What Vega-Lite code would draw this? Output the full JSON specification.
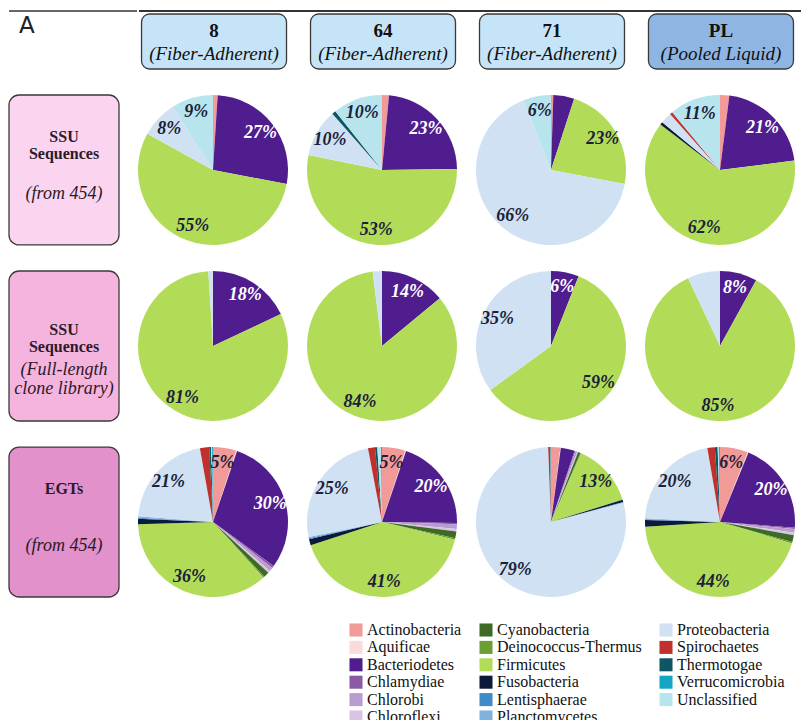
{
  "$schema": "https://vega.github.io/schema/vega-lite/v6.json",
  "padding": {"left": 8, "top": 10, "right": 0, "bottom": 0},
  "background": "white",
  "config": {"view": {"stroke": null}, "font": "'Liberation Serif', 'DejaVu Serif', serif"},
  "datasets": {
    "cols": [
      {"sample": "8", "num": "8", "sub": "(Fiber-Adherent)"},
      {"sample": "64", "num": "64", "sub": "(Fiber-Adherent)"},
      {"sample": "71", "num": "71", "sub": "(Fiber-Adherent)"},
      {"sample": "PL", "num": "PL", "sub": "(Pooled Liquid)"}
    ],
    "rows": [
      {"dataset": "SSU454", "bold": "SSU\nSequences", "ital": "(from 454)"},
      {"dataset": "SSUclone", "bold": "\nSSU\nSequences", "ital": "(Full-length\nclone library)"},
      {"dataset": "EGT", "bold": "EGTs", "ital": "(from 454)"}
    ],
    "pies": [
      {"sample": "8", "dataset": "SSU454", "phylum": "Actinobacteria", "pct": 1, "label": ""},
      {"sample": "8", "dataset": "SSU454", "phylum": "Bacteriodetes", "pct": 27, "label": "27%"},
      {"sample": "8", "dataset": "SSU454", "phylum": "Firmicutes", "pct": 55, "label": "55%"},
      {"sample": "8", "dataset": "SSU454", "phylum": "Proteobacteria", "pct": 8, "label": "8%"},
      {"sample": "8", "dataset": "SSU454", "phylum": "Unclassified", "pct": 9, "label": "9%"},

      {"sample": "64", "dataset": "SSU454", "phylum": "Actinobacteria", "pct": 1.5, "label": ""},
      {"sample": "64", "dataset": "SSU454", "phylum": "Bacteriodetes", "pct": 23.3, "label": "23%"},
      {"sample": "64", "dataset": "SSU454", "phylum": "Firmicutes", "pct": 53.4, "label": "53%"},
      {"sample": "64", "dataset": "SSU454", "phylum": "Proteobacteria", "pct": 10.3, "label": "10%"},
      {"sample": "64", "dataset": "SSU454", "phylum": "Thermotogae", "pct": 0.8, "label": ""},
      {"sample": "64", "dataset": "SSU454", "phylum": "Unclassified", "pct": 10.7, "label": "10%"},

      {"sample": "71", "dataset": "SSU454", "phylum": "Actinobacteria", "pct": 0.5, "label": ""},
      {"sample": "71", "dataset": "SSU454", "phylum": "Bacteriodetes", "pct": 4.5, "label": ""},
      {"sample": "71", "dataset": "SSU454", "phylum": "Firmicutes", "pct": 23, "label": "23%"},
      {"sample": "71", "dataset": "SSU454", "phylum": "Proteobacteria", "pct": 66, "label": "66%"},
      {"sample": "71", "dataset": "SSU454", "phylum": "Unclassified", "pct": 6, "label": "6%"},

      {"sample": "PL", "dataset": "SSU454", "phylum": "Actinobacteria", "pct": 2, "label": ""},
      {"sample": "PL", "dataset": "SSU454", "phylum": "Bacteriodetes", "pct": 21, "label": "21%"},
      {"sample": "PL", "dataset": "SSU454", "phylum": "Firmicutes", "pct": 62.4, "label": "62%"},
      {"sample": "PL", "dataset": "SSU454", "phylum": "Fusobacteria", "pct": 0.6, "label": ""},
      {"sample": "PL", "dataset": "SSU454", "phylum": "Proteobacteria", "pct": 2.4, "label": ""},
      {"sample": "PL", "dataset": "SSU454", "phylum": "Spirochaetes", "pct": 0.6, "label": ""},
      {"sample": "PL", "dataset": "SSU454", "phylum": "Unclassified", "pct": 11, "label": "11%"},

      {"sample": "8", "dataset": "SSUclone", "phylum": "Bacteriodetes", "pct": 18, "label": "18%"},
      {"sample": "8", "dataset": "SSUclone", "phylum": "Firmicutes", "pct": 81, "label": "81%"},
      {"sample": "8", "dataset": "SSUclone", "phylum": "Proteobacteria", "pct": 1, "label": ""},

      {"sample": "64", "dataset": "SSUclone", "phylum": "Bacteriodetes", "pct": 14, "label": "14%"},
      {"sample": "64", "dataset": "SSUclone", "phylum": "Firmicutes", "pct": 84, "label": "84%"},
      {"sample": "64", "dataset": "SSUclone", "phylum": "Proteobacteria", "pct": 2, "label": ""},

      {"sample": "71", "dataset": "SSUclone", "phylum": "Bacteriodetes", "pct": 6, "label": "6%"},
      {"sample": "71", "dataset": "SSUclone", "phylum": "Firmicutes", "pct": 59, "label": "59%"},
      {"sample": "71", "dataset": "SSUclone", "phylum": "Proteobacteria", "pct": 35, "label": "35%"},

      {"sample": "PL", "dataset": "SSUclone", "phylum": "Bacteriodetes", "pct": 8, "label": "8%"},
      {"sample": "PL", "dataset": "SSUclone", "phylum": "Firmicutes", "pct": 85, "label": "85%"},
      {"sample": "PL", "dataset": "SSUclone", "phylum": "Proteobacteria", "pct": 7, "label": ""},

      {"sample": "8", "dataset": "EGT", "phylum": "Actinobacteria", "pct": 5, "label": "5%"},
      {"sample": "8", "dataset": "EGT", "phylum": "Aquificae", "pct": 0.2, "label": ""},
      {"sample": "8", "dataset": "EGT", "phylum": "Bacteriodetes", "pct": 29.8, "label": "30%"},
      {"sample": "8", "dataset": "EGT", "phylum": "Chlamydiae", "pct": 0.5, "label": ""},
      {"sample": "8", "dataset": "EGT", "phylum": "Chlorobi", "pct": 0.8, "label": ""},
      {"sample": "8", "dataset": "EGT", "phylum": "Chloroflexi", "pct": 0.5, "label": ""},
      {"sample": "8", "dataset": "EGT", "phylum": "Cyanobacteria", "pct": 1.2, "label": ""},
      {"sample": "8", "dataset": "EGT", "phylum": "Deinococcus-Thermus", "pct": 0.3, "label": ""},
      {"sample": "8", "dataset": "EGT", "phylum": "Firmicutes", "pct": 36.2, "label": "36%"},
      {"sample": "8", "dataset": "EGT", "phylum": "Fusobacteria", "pct": 1.2, "label": ""},
      {"sample": "8", "dataset": "EGT", "phylum": "Lentisphaerae", "pct": 0.2, "label": ""},
      {"sample": "8", "dataset": "EGT", "phylum": "Planctomycetes", "pct": 0.3, "label": ""},
      {"sample": "8", "dataset": "EGT", "phylum": "Proteobacteria", "pct": 21, "label": "21%"},
      {"sample": "8", "dataset": "EGT", "phylum": "Spirochaetes", "pct": 2, "label": ""},
      {"sample": "8", "dataset": "EGT", "phylum": "Thermotogae", "pct": 0.4, "label": ""},
      {"sample": "8", "dataset": "EGT", "phylum": "Unclassified", "pct": 0.2, "label": ""},
      {"sample": "8", "dataset": "EGT", "phylum": "Verrucomicrobia", "pct": 0.2, "label": ""},

      {"sample": "64", "dataset": "EGT", "phylum": "Actinobacteria", "pct": 5, "label": "5%"},
      {"sample": "64", "dataset": "EGT", "phylum": "Aquificae", "pct": 0.2, "label": ""},
      {"sample": "64", "dataset": "EGT", "phylum": "Bacteriodetes", "pct": 20, "label": "20%"},
      {"sample": "64", "dataset": "EGT", "phylum": "Chlamydiae", "pct": 0.3, "label": ""},
      {"sample": "64", "dataset": "EGT", "phylum": "Chlorobi", "pct": 1, "label": ""},
      {"sample": "64", "dataset": "EGT", "phylum": "Chloroflexi", "pct": 0.5, "label": ""},
      {"sample": "64", "dataset": "EGT", "phylum": "Cyanobacteria", "pct": 1.5, "label": ""},
      {"sample": "64", "dataset": "EGT", "phylum": "Deinococcus-Thermus", "pct": 0.3, "label": ""},
      {"sample": "64", "dataset": "EGT", "phylum": "Firmicutes", "pct": 41.2, "label": "41%"},
      {"sample": "64", "dataset": "EGT", "phylum": "Fusobacteria", "pct": 1.3, "label": ""},
      {"sample": "64", "dataset": "EGT", "phylum": "Lentisphaerae", "pct": 0.2, "label": ""},
      {"sample": "64", "dataset": "EGT", "phylum": "Planctomycetes", "pct": 0.3, "label": ""},
      {"sample": "64", "dataset": "EGT", "phylum": "Proteobacteria", "pct": 25.2, "label": "25%"},
      {"sample": "64", "dataset": "EGT", "phylum": "Spirochaetes", "pct": 1.5, "label": ""},
      {"sample": "64", "dataset": "EGT", "phylum": "Thermotogae", "pct": 0.5, "label": ""},
      {"sample": "64", "dataset": "EGT", "phylum": "Unclassified", "pct": 0.8, "label": ""},
      {"sample": "64", "dataset": "EGT", "phylum": "Verrucomicrobia", "pct": 0.2, "label": ""},

      {"sample": "71", "dataset": "EGT", "phylum": "Actinobacteria", "pct": 2, "label": ""},
      {"sample": "71", "dataset": "EGT", "phylum": "Aquificae", "pct": 0.1, "label": ""},
      {"sample": "71", "dataset": "EGT", "phylum": "Bacteriodetes", "pct": 3, "label": ""},
      {"sample": "71", "dataset": "EGT", "phylum": "Chlamydiae", "pct": 0.2, "label": ""},
      {"sample": "71", "dataset": "EGT", "phylum": "Chlorobi", "pct": 0.4, "label": ""},
      {"sample": "71", "dataset": "EGT", "phylum": "Chloroflexi", "pct": 0.2, "label": ""},
      {"sample": "71", "dataset": "EGT", "phylum": "Cyanobacteria", "pct": 0.5, "label": ""},
      {"sample": "71", "dataset": "EGT", "phylum": "Deinococcus-Thermus", "pct": 0.2, "label": ""},
      {"sample": "71", "dataset": "EGT", "phylum": "Firmicutes", "pct": 13.6, "label": "13%"},
      {"sample": "71", "dataset": "EGT", "phylum": "Fusobacteria", "pct": 0.5, "label": ""},
      {"sample": "71", "dataset": "EGT", "phylum": "Lentisphaerae", "pct": 0.1, "label": ""},
      {"sample": "71", "dataset": "EGT", "phylum": "Planctomycetes", "pct": 0.1, "label": ""},
      {"sample": "71", "dataset": "EGT", "phylum": "Proteobacteria", "pct": 78.5, "label": "79%"},
      {"sample": "71", "dataset": "EGT", "phylum": "Spirochaetes", "pct": 0.4, "label": ""},
      {"sample": "71", "dataset": "EGT", "phylum": "Thermotogae", "pct": 0.1, "label": ""},
      {"sample": "71", "dataset": "EGT", "phylum": "Unclassified", "pct": 0.05, "label": ""},
      {"sample": "71", "dataset": "EGT", "phylum": "Verrucomicrobia", "pct": 0.05, "label": ""},

      {"sample": "PL", "dataset": "EGT", "phylum": "Actinobacteria", "pct": 6, "label": "6%"},
      {"sample": "PL", "dataset": "EGT", "phylum": "Aquificae", "pct": 0.2, "label": ""},
      {"sample": "PL", "dataset": "EGT", "phylum": "Bacteriodetes", "pct": 20, "label": "20%"},
      {"sample": "PL", "dataset": "EGT", "phylum": "Chlamydiae", "pct": 0.3, "label": ""},
      {"sample": "PL", "dataset": "EGT", "phylum": "Chlorobi", "pct": 0.8, "label": ""},
      {"sample": "PL", "dataset": "EGT", "phylum": "Chloroflexi", "pct": 0.5, "label": ""},
      {"sample": "PL", "dataset": "EGT", "phylum": "Cyanobacteria", "pct": 1.5, "label": ""},
      {"sample": "PL", "dataset": "EGT", "phylum": "Deinococcus-Thermus", "pct": 0.3, "label": ""},
      {"sample": "PL", "dataset": "EGT", "phylum": "Firmicutes", "pct": 44.4, "label": "44%"},
      {"sample": "PL", "dataset": "EGT", "phylum": "Fusobacteria", "pct": 1.4, "label": ""},
      {"sample": "PL", "dataset": "EGT", "phylum": "Lentisphaerae", "pct": 0.2, "label": ""},
      {"sample": "PL", "dataset": "EGT", "phylum": "Planctomycetes", "pct": 0.2, "label": ""},
      {"sample": "PL", "dataset": "EGT", "phylum": "Proteobacteria", "pct": 21.5, "label": "20%"},
      {"sample": "PL", "dataset": "EGT", "phylum": "Spirochaetes", "pct": 1.6, "label": ""},
      {"sample": "PL", "dataset": "EGT", "phylum": "Thermotogae", "pct": 0.6, "label": ""},
      {"sample": "PL", "dataset": "EGT", "phylum": "Unclassified", "pct": 0.3, "label": ""},
      {"sample": "PL", "dataset": "EGT", "phylum": "Verrucomicrobia", "pct": 0.2, "label": ""}
    ]
  },
  "spacing": 24,
  "vconcat": [
    {
      "spacing": 0,
      "hconcat": [
        {
          "width": 128,
          "height": 58,
          "data": {"values": [{"t": "A"}]},
          "layer": [
            {"mark": {"type": "rule", "color": "#333", "strokeWidth": 1.5}, "encoding": {"y": {"value": 0}}},
            {"mark": {"type": "text", "font": "DejaVu Sans", "fontSize": 23, "align": "left", "baseline": "middle", "dx": -54, "dy": -14, "color": "#222"}, "encoding": {"text": {"field": "t"}}}
          ]
        },
        {
          "width": 665,
          "height": 58,
          "data": {"name": "cols"},
          "layer": [
            {"mark": {"type": "rule", "color": "#333", "strokeWidth": 1.5}, "encoding": {"y": {"value": 0}}},
            {
              "mark": {"type": "rect", "cornerRadius": 8, "stroke": "#3a3a3a", "strokeWidth": 1.3},
              "encoding": {
                "x": {"field": "sample", "type": "nominal", "sort": ["8", "64", "71", "PL"], "scale": {"type": "band", "paddingInner": 0.142, "paddingOuter": 0.015, "range": [0, 657]}, "axis": null},
                "y": {"value": 3},
                "y2": {"value": 58},
                "fill": {"condition": {"test": "datum.sample === 'PL'", "value": "#8fb6e2"}, "value": "#c6e4f8"}
              }
            },
            {
              "mark": {"type": "text", "font": "'Liberation Serif', 'DejaVu Serif', serif", "fontSize": 19, "fontWeight": "bold", "baseline": "middle", "dy": -9, "color": "#111"},
              "encoding": {
                "x": {"field": "sample", "type": "nominal", "sort": ["8", "64", "71", "PL"], "scale": {"type": "band", "paddingInner": 0.142, "paddingOuter": 0.015, "range": [0, 657]}, "axis": null},
                "text": {"field": "num"}
              }
            },
            {
              "mark": {"type": "text", "font": "'Liberation Serif', 'DejaVu Serif', serif", "fontSize": 19, "fontStyle": "italic", "baseline": "middle", "dy": 14, "color": "#111"},
              "encoding": {
                "x": {"field": "sample", "type": "nominal", "sort": ["8", "64", "71", "PL"], "scale": {"type": "band", "paddingInner": 0.142, "paddingOuter": 0.015, "range": [0, 657]}, "axis": null},
                "text": {"field": "sub"}
              }
            }
          ]
        }
      ]
    },
    {
      "spacing": 18,
      "hconcat": [
        {
          "width": 110,
          "height": 502,
          "data": {"name": "rows"},
          "layer": [
            {
              "mark": {"type": "rect", "cornerRadius": 10, "stroke": "#3a3a3a", "strokeWidth": 1.3},
              "encoding": {
                "y": {"field": "dataset", "type": "nominal", "sort": ["SSU454", "SSUclone", "EGT"], "scale": {"type": "band", "paddingInner": 0.148, "paddingOuter": 0}, "axis": null},
                "fill": {"condition": [{"test": "datum.dataset === 'SSU454'", "value": "#fbd5ef"}, {"test": "datum.dataset === 'SSUclone'", "value": "#f5b4de"}], "value": "#e291ca"}
              }
            },
            {
              "mark": {"type": "text", "font": "'Liberation Serif', 'DejaVu Serif', serif", "fontSize": 16, "fontWeight": "bold", "baseline": "top", "lineBreak": "\n", "lineHeight": 17, "dy": -41, "color": "#2a1a2a"},
              "encoding": {
                "y": {"field": "dataset", "type": "nominal", "sort": ["SSU454", "SSUclone", "EGT"], "scale": {"type": "band", "paddingInner": 0.148, "paddingOuter": 0}, "axis": null},
                "text": {"field": "bold"}
              }
            },
            {
              "mark": {"type": "text", "font": "'Liberation Serif', 'DejaVu Serif', serif", "fontSize": 18, "fontStyle": "italic", "baseline": "top", "lineBreak": "\n", "lineHeight": 19, "dy": 15, "color": "#2a1a2a"},
              "encoding": {
                "y": {"field": "dataset", "type": "nominal", "sort": ["SSU454", "SSUclone", "EGT"], "scale": {"type": "band", "paddingInner": 0.148, "paddingOuter": 0}, "axis": null},
                "text": {"field": "ital"}
              }
            }
          ]
        },
        {
          "data": {"name": "pies"},
          "facet": {
            "row": {"field": "dataset", "type": "nominal", "sort": ["SSU454", "SSUclone", "EGT"], "title": null, "header": {"labels": false, "title": null}},
            "column": {"field": "sample", "type": "nominal", "sort": ["8", "64", "71", "PL"], "title": null, "header": {"labels": false, "title": null}}
          },
          "spacing": {"row": 26, "column": 19},
          "spec": {
            "width": 150,
            "height": 150,
            "layer": [
              {
                "mark": {"type": "arc", "outerRadius": 75},
                "encoding": {
                  "theta": {"field": "pct", "type": "quantitative", "stack": "normalize"},
                  "order": {"field": "phylum", "type": "nominal"},
                  "color": {
                    "field": "phylum",
                    "type": "nominal",
                    "scale": {
                      "domain": ["Actinobacteria", "Aquificae", "Bacteriodetes", "Chlamydiae", "Chlorobi", "Chloroflexi", "Cyanobacteria", "Deinococcus-Thermus", "Firmicutes", "Fusobacteria", "Lentisphaerae", "Planctomycetes", "Proteobacteria", "Spirochaetes", "Thermotogae", "Verrucomicrobia", "Unclassified"],
                      "range": ["#f29a98", "#fadada", "#4f1d8e", "#8b5aa5", "#b89ccf", "#dac4e6", "#3d6b23", "#6b9e34", "#b2dc58", "#0c1a3a", "#3f8ac8", "#80b2e0", "#cfe1f2", "#c0302c", "#0e5663", "#12a6c4", "#b8e4ee"]
                    },
                    "legend": {
                      "orient": "none",
                      "legendX": 339,
                      "legendY": 611,
                      "columns": 3,
                      "title": null,
                      "symbolType": "square",
                      "symbolSize": 170,
                      "symbolStrokeWidth": 0,
                      "labelFont": "'Liberation Serif', 'DejaVu Serif', serif",
                      "labelFontSize": 16,
                      "labelColor": "#111",
                      "labelLimit": 300,
                      "labelOffset": 3,
                      "rowPadding": 1.4,
                      "columnPadding": 16,
                      "gridAlign": "each"
                    }
                  }
                }
              },
              {
                "mark": {"type": "text", "radius": 60, "font": "'Liberation Serif', 'DejaVu Serif', serif", "fontSize": 18, "fontWeight": "bold", "fontStyle": "italic"},
                "encoding": {
                  "theta": {"field": "pct", "type": "quantitative", "stack": "normalize"},
                  "order": {"field": "phylum", "type": "nominal"},
                  "detail": {"field": "phylum", "type": "nominal"},
                  "text": {"field": "label"},
                  "color": {"condition": {"test": "datum.phylum === 'Bacteriodetes'", "value": "white"}, "value": "#1c1f3a"}
                }
              }
            ]
          }
        }
      ]
    }
  ]
}
